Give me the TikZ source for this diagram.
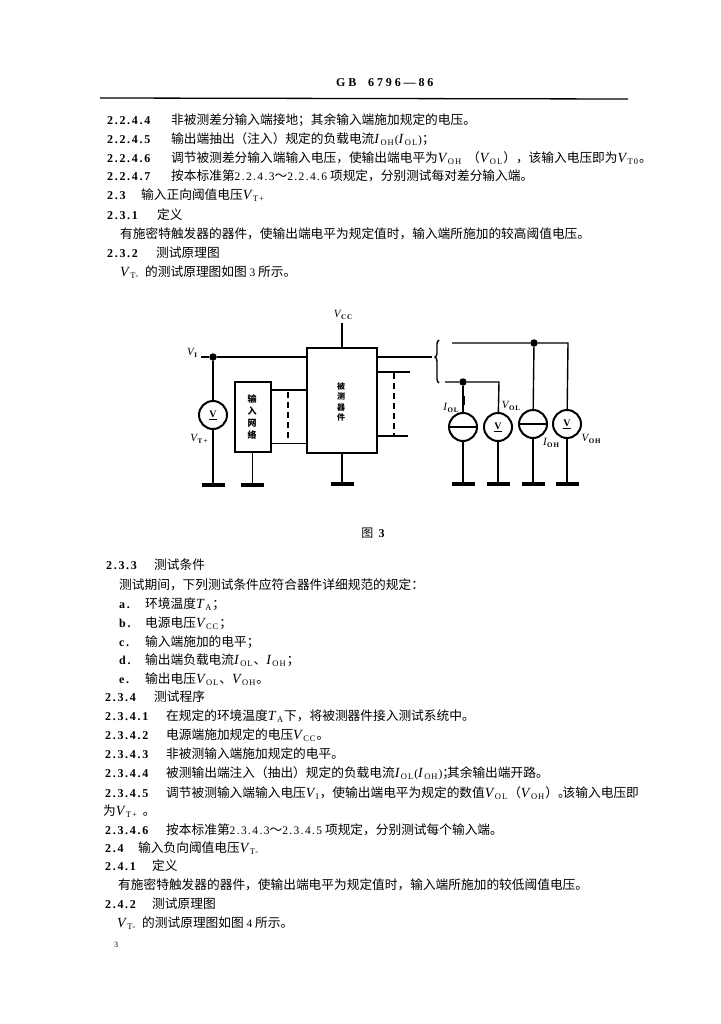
\documentclass[tikz,border=0pt]{standalone}
\usepackage{fontspec}
\setmainfont{Noto Sans CJK SC}
\newfontfamily\latinfont{Liberation Serif}
\newfontfamily\spacedfont[LetterSpace=14]{Liberation Serif}
\newfontfamily\subfont[LetterSpace=12]{Liberation Serif}
\newfontfamily\hdfont[LetterSpace=24]{Liberation Serif}
\usetikzlibrary{decorations.pathreplacing}

\newcommand{\Sym}[2]{{\latinfont\itshape\fontsize{14}{14}\selectfont #1}\raisebox{-2pt}{\subfont\fontsize{8.5}{8}\selectfont\kern1.5pt #2\kern1pt}}
\newcommand{\SymS}[2]{{\latinfont\itshape\fontsize{11}{11}\selectfont #1}\raisebox{-2pt}{\subfont\bfseries\fontsize{7}{7}\selectfont\kern.5pt #2}}
\newcommand{\Dig}[1]{{\subfont\fontsize{11.5}{14}\selectfont #1}}

\tikzset{
	txt/.style={anchor=base west,inner sep=0pt,font=\fontsize{12.7}{14}\selectfont},
	secno/.style={anchor=base west,inner sep=0pt,font=\spacedfont\bfseries\fontsize{12}{14}\selectfont},
	lab/.style={inner sep=0pt,font=\fontsize{11}{12}\selectfont},
	wire/.style={line width=1.4pt},
	boxb/.style={draw,line width=2pt,inner sep=0pt},
	meter/.style={draw,circle,line width=2pt,minimum size=28pt,inner sep=0pt,font=\latinfont\bfseries\fontsize{10}{10}\selectfont},
	gndbar/.style={fill,rectangle,minimum width=23pt,minimum height=4pt,inner sep=0pt},
	jct/.style={fill,circle,minimum size=7.5pt,inner sep=0pt}
}

\begin{document}
\begin{tikzpicture}[x=1pt,y=-1pt]
	\fill[white] (0,0) rectangle (720,1024);
	\useasboundingbox (0,0) rectangle (720,1024);

	% header
	\node[anchor=base west,inner sep=0pt,font=\hdfont\bfseries\fontsize{12}{12}\selectfont] (hd) at (336,87) {GB \ 6796—86};
	\coordinate (rulea) at (100,98);
	\coordinate (ruleb) at (628,99);
	\draw[line width=1.3pt] (rulea) -- (ruleb);

	% upper text
	\node[secno] (s2244) at (107,125) {2.2.4.4};
	\node[txt] (t2244) at (171,125) {非被测差分输入端接地；其余输入端施加规定的电压。};
	\node[secno] (s2245) at (107,144) {2.2.4.5};
	\node[txt] (t2245) at (171,144) {输出端抽出（注入）规定的负载电流\Sym{I}{OH}\Dig{(}\Sym{I}{OL}\Dig{)}；};
	\node[secno] (s2246) at (107,163) {2.2.4.6};
	\node[txt] (t2246) at (171,163) {调节被测差分输入端输入电压，使输出端电平为\Sym{V}{OH} \,（\Sym{V}{OL}），该输入电压即为\Sym{V}{T0}。};
	\node[secno] (s2247) at (107,181) {2.2.4.7};
	\node[txt] (t2247) at (171,181) {按本标准第\Dig{2.2.4.3}～\Dig{2.2.4.6} 项规定，分别测试每对差分输入端。};
	\node[secno] (s23) at (107,200) {2.3};
	\node[txt] (t23) at (141,200) {输入正向阈值电压\Sym{V}{T+}};
	\node[secno] (s231) at (107,219) {2.3.1};
	\node[txt] (t231) at (157,219) {定义};
	\node[txt] (p231) at (120,239) {有施密特触发器的器件，使输出端电平为规定值时，输入端所施加的较高阈值电压。};
	\node[secno] (s232) at (107,257) {2.3.2};
	\node[txt] (t232) at (156,257) {测试原理图};
	\node[txt] (p232) at (120,276) {\Sym{V}{T-} \ 的测试原理图如图 \Dig{3} 所示。};

	% circuit, left part
	\node[boxb,minimum width=70pt,minimum height=105pt] (dut) at (342,400.5) {};
	\node[inner sep=0pt,align=center,font=\bfseries\fontsize{8}{10.5}\selectfont] (dutt) at (341,402) {被\\测\\器\\件};
	\node[boxb,minimum width=36pt,minimum height=70pt] (innet) at (253,417) {};
	\node[inner sep=0pt,align=center,font=\bfseries\fontsize{9}{12}\selectfont] (innett) at (252,417) {输\\入\\网\\络};
	\node[lab] (vcc) at (343,315) {\SymS{V}{CC}};
	\node[lab] (vi) at (192,353) {\SymS{V}{I}};
	\node[jct] (vij) at (213,357) {};
	\node[meter] (vm) at (213,415) {\underline{V}};
	\node[lab] (vtp) at (199,439) {\SymS{V}{T\,+}};
	\node[gndbar] (g1) at (213,485) {};
	\node[gndbar] (g2) at (252,485) {};
	\node[gndbar] (g3) at (342,484) {};

	\coordinate (vis) at (201,357);
	\coordinate (vin) at (307,357);
	\coordinate (vcct) at (342,323);
	\draw[wire] (vis) -- (vij) -- (vin);
	\draw[wire] (vij) -- (vm);
	\draw[wire] (vm) -- (g1);
	\draw[wire] (vcct) -- (dut.north);
	\draw[wire] (dut.south) -- (g3);
	\draw[line width=.8pt] (innet.south -| g2) -- (g2);

	\coordinate (ia) at (271,390);
	\coordinate (ib) at (307,390);
	\coordinate (ic) at (271,443);
	\coordinate (id) at (307,443);
	\coordinate (ie) at (288,392);
	\coordinate (if) at (288,440);
	\draw[wire] (ia) -- (ib);
	\draw[line width=.8pt] (ic) -- (id);
	\draw[wire,dashed,dash pattern=on 6pt off 4pt] (ie) -- (if);

	% outputs
	\coordinate (oa) at (377,357);
	\coordinate (ob) at (432,357);
	\coordinate (oc) at (377,372);
	\coordinate (od) at (410,372);
	\coordinate (oe) at (377,436);
	\coordinate (of) at (408,436);
	\coordinate (og) at (394,373);
	\coordinate (oh) at (394,435);
	\draw[wire] (oa) -- (ob);
	\draw[wire] (oc) -- (od);
	\draw[wire] (oe) -- (of);
	\draw[wire,dashed,dash pattern=on 6pt off 4pt] (og) -- (oh);

	\coordinate (bra) at (439,383);
	\coordinate (brb) at (439,340);
	\draw[wire,decorate,decoration={brace,amplitude=4pt,aspect=.6}] (bra) -- (brb);

	% loads
	\coordinate (hi) at (452,343);
	\coordinate (hc) at (568,343);
	\coordinate (lo) at (445,382);
	\coordinate (lc) at (499,382);
	\node[jct] (hij) at (534,343) {};
	\node[jct] (loj) at (463,382) {};
	\node[meter] (iol) at (463,427) {};
	\node[meter] (vol) at (498,427) {\underline{V}};
	\node[meter] (ioh) at (533,424) {};
	\node[meter] (voh) at (567,424) {\underline{V}};
	\node[gndbar] (g4) at (463,484) {};
	\node[gndbar] (g5) at (498,484) {};
	\node[gndbar] (g6) at (533,484) {};
	\node[gndbar] (g7) at (567,484) {};
	\node[lab] (liol) at (451,408) {\SymS{I}{OL}};
	\node[lab] (lvol) at (511,406) {\SymS{V}{OL}};
	\node[lab] (lioh) at (551,443) {\SymS{I}{OH}};
	\node[lab] (lvoh) at (591,439) {\SymS{V}{OH}};

	\draw[wire] (hi) -- (hij) -- (hc) -- (voh);
	\draw[wire] (lo) -- (loj) -- (lc) -- (vol);
	\draw[wire] (hij) -- (ioh);
	\draw[wire] (loj) -- (iol);
	\draw[wire] (iol) -- (g4);
	\draw[wire] (vol) -- (g5);
	\draw[wire] (ioh) -- (g6);
	\draw[wire] (voh) -- (g7);
	\draw[wire] (iol.west) -- (iol.east);
	\draw[line width=2pt] (ioh.west) -- (ioh.east);

	% thick stubs on the two current branches
	\coordinate (sa) at (464,396);
	\coordinate (sb) at (464,405);
	\coordinate (sc) at (533,443);
	\coordinate (sd) at (533,454);
	\draw[line width=2.6pt] (sa) -- (sb);
	\draw[line width=2.6pt] (sc) -- (sd);

	\node[anchor=base,inner sep=0pt,font=\fontsize{12}{12}\selectfont] (cap) at (373,537) {图\ \ {\latinfont\bfseries 3}};

	% lower text
	\node[secno] (s233) at (106,569) {2.3.3};
	\node[txt] (t233) at (154,569) {测试条件};
	\node[txt] (p233) at (119,589) {测试期间，下列测试条件应符合器件详细规范的规定：};
	\node[secno] (ia1) at (119,608) {a.};
	\node[txt] (ia2) at (145,608) {环境温度\Sym{T}{A}；};
	\node[secno] (ib1) at (119,627) {b.};
	\node[txt] (ib2) at (145,627) {电源电压\Sym{V}{CC}；};
	\node[secno] (ic1) at (119,646) {c.};
	\node[txt] (ic2) at (145,646) {输入端施加的电平；};
	\node[secno] (id1) at (119,664) {d.};
	\node[txt] (id2) at (145,664) {输出端负载电流\Sym{I}{OL}、\Sym{I}{OH}；};
	\node[secno] (ie1) at (119,683) {e.};
	\node[txt] (ie2) at (145,683) {输出电压\Sym{V}{OL}、\Sym{V}{OH}。};
	\node[secno] (s234) at (105,701) {2.3.4};
	\node[txt] (t234) at (154,701) {测试程序};
	\node[secno] (s2341) at (105,720) {2.3.4.1};
	\node[txt] (t2341) at (166,720) {在规定的环境温度\Sym{T}{A}下，将被测器件接入测试系统中。};
	\node[secno] (s2342) at (105,739) {2.3.4.2};
	\node[txt] (t2342) at (166,739) {电源端施加规定的电压\Sym{V}{CC}。};
	\node[secno] (s2343) at (105,758) {2.3.4.3};
	\node[txt] (t2343) at (166,758) {非被测输入端施加规定的电平。};
	\node[secno] (s2344) at (105,777) {2.3.4.4};
	\node[txt] (t2344) at (166,777) {被测输出端注入（抽出）规定的负载电流\Sym{I}{OL}\Dig{(}\Sym{I}{OH}\Dig{)}；\kern-8pt 其余输出端开路。};
	\node[secno] (s2345) at (105,797) {2.3.4.5};
	\node[txt] (t2345) at (166,797) {调节被测输入端输入电压\Sym{V}{I}，使输出端电平为规定的数值\Sym{V}{OL}（\Sym{V}{OH}）。\kern-8pt 该输入电压即};
	\node[txt] (t2345b) at (103,815) {为\Sym{V}{T+} \,。};
	\node[secno] (s2346) at (105,834) {2.3.4.6};
	\node[txt] (t2346) at (166,834) {按本标准第\Dig{2.3.4.3}～\Dig{2.3.4.5} 项规定，分别测试每个输入端。};
	\node[secno] (s24) at (105,852) {2.4};
	\node[txt] (t24) at (138,852) {输入负向阈值电压\Sym{V}{T-}};
	\node[secno] (s241) at (105,870) {2.4.1};
	\node[txt] (t241) at (152,870) {定义};
	\node[txt] (p241) at (118,889) {有施密特触发器的器件，使输出端电平为规定值时，输入端所施加的较低阈值电压。};
	\node[secno] (s242) at (105,908) {2.4.2};
	\node[txt] (t242) at (152,908) {测试原理图};
	\node[txt] (p242) at (117,927) {\Sym{V}{T-} \ 的测试原理图如图 \Dig{4} 所示。};
	\node[anchor=base west,inner sep=0pt,font=\latinfont\fontsize{8}{9}\selectfont] (pg) at (114,947) {3};
\end{tikzpicture}
\end{document}
